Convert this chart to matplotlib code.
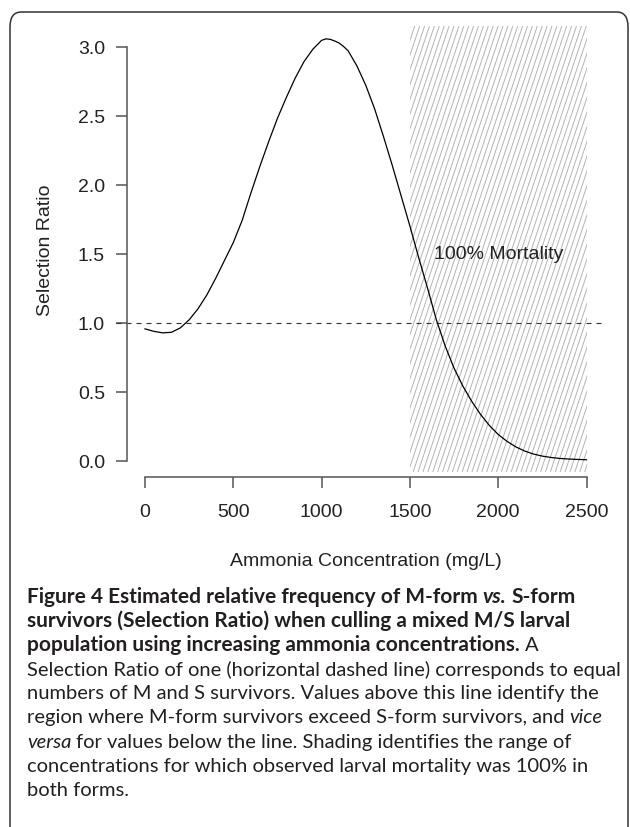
import numpy as np
import matplotlib.pyplot as plt
from matplotlib.collections import LineCollection
from matplotlib.patches import FancyBboxPatch

# ============== data
ammonia = [0, 50, 100, 150, 200, 250, 300, 350, 400, 450, 500, 550, 600, 650,
           700, 750, 800, 850, 900, 950, 1000, 1025, 1050, 1075, 1100, 1125,
           1150, 1200, 1250, 1300, 1350, 1400, 1450, 1500, 1550, 1600, 1650,
           1700, 1750, 1800, 1850, 1900, 1950, 2000, 2050, 2100, 2150, 2200,
           2250, 2300, 2350, 2400, 2450, 2500]
selection_ratio = [0.955, 0.937, 0.926, 0.93, 0.962, 1.02, 1.10, 1.20, 1.32,
                   1.45, 1.58, 1.74, 1.94, 2.13, 2.31, 2.48, 2.63, 2.77, 2.89,
                   2.98, 3.045, 3.056, 3.052, 3.04, 3.025, 3.0, 2.97, 2.86,
                   2.72, 2.55, 2.35, 2.14, 1.92, 1.70, 1.47, 1.25, 1.02, 0.83,
                   0.67, 0.54, 0.43, 0.335, 0.255, 0.19, 0.14, 0.10, 0.07,
                   0.048, 0.033, 0.023, 0.016, 0.012, 0.009, 0.007]
mortality_range = [1500, 2500]
reference_ratio = 1.0
xticks = [0, 500, 1000, 1500, 2000, 2500]
yticks = [0.0, 0.5, 1.0, 1.5, 2.0, 2.5, 3.0]

W, H = 630, 828
fig = plt.figure(figsize=(W / 100, H / 100), dpi=100)
plt.rcParams['font.family'] = ['Liberation Sans', 'DejaVu Sans']

# plot region in pixels (left, top, right, bottom)
L, T, R, B = 116, 27, 604, 473
ax = fig.add_axes([L / W, 1 - B / H, (R - L) / W, (B - T) / H])
ax.set_xlim(-164, 2599)
ax.set_ylim(-0.082, 3.149)

# ---- shaded "100% mortality" region with steep diagonal hatching
span = ax.axvspan(mortality_range[0], mortality_range[1], facecolor='none',
                  edgecolor='none', zorder=0)
px_per_x = (R - L) / (2599 + 164)
px_per_y = (B - T) / (3.149 + 0.082)
slope = 3.0 * px_per_x / px_per_y         # data slope of a line at ~72 deg
step = 4.9 / px_per_x                     # spacing between hatch lines
y0, y1 = ax.get_ylim()
run = (y1 - y0) / slope
starts = np.arange(mortality_range[0] - run, mortality_range[1] + step, step)
segs = [[(s, y0), (s + run, y1)] for s in starts]
hatch = LineCollection(segs, colors='#b4b4b4', linewidths=0.7, zorder=0.5)
ax.add_collection(hatch)
hatch.set_clip_path(span)

ax.axhline(reference_ratio, color='#333333', lw=0.8, dashes=(4.5, 4.5))
ax.plot(ammonia, selection_ratio, color='black', lw=0.9)

ax.text(2000, 1.5, '100% Mortality', ha='center', va='center', fontsize=14,
        color='#222222')

# ---- R style detached axes
for side in ['top', 'right']:
    ax.spines[side].set_visible(False)
ax.spines['left'].set_position(('data', -100))
ax.spines['left'].set_bounds(0, 3)
ax.spines['bottom'].set_position(('data', -0.118))
ax.spines['bottom'].set_bounds(0, 2500)
for side in ['left', 'bottom']:
    ax.spines[side].set_color('#555555')
    ax.spines[side].set_linewidth(1.1)
ax.set_xticks(xticks)
ax.set_yticks(yticks)
ax.set_yticklabels(['%.1f' % v for v in yticks])
ax.tick_params(axis='both', length=8, width=1.1, color='#555555',
               labelsize=14, labelcolor='#222222')
ax.tick_params(axis='y', pad=8)
ax.tick_params(axis='x', pad=11)

fig.text(366 / W, 1 - 562 / H, 'Ammonia Concentration (mg/L)', ha='center',
         va='center', fontsize=14, color='#222222')
fig.text(45 / W, 1 - 250 / H, 'Selection Ratio', ha='center', va='center',
         rotation=90, fontsize=14, color='#222222')

# ---- rounded frame
frame = FancyBboxPatch((10 / W, -0.02), 618 / W, 1 - 13 / H + 0.02,
                       boxstyle='round,pad=0,rounding_size=0.018',
                       transform=fig.transFigure, fill=False,
                       edgecolor='#333333', lw=1.1)
fig.patches.append(frame)

# ---- caption with mixed styles
cap_font = 'Lato'
renderer = fig.canvas.get_renderer()


def text_width(s, size, weight='normal', style='normal'):
    t = fig.text(0, 0, s, fontsize=size, family=cap_font, weight=weight,
                 style=style)
    w = t.get_window_extent(renderer).width
    t.remove()
    return w


# scale the caption so the lines fill the same widths as the original
ref_line = 'Selection Ratio of one (horizontal dashed line) corresponds to equal'
ref_bold = 'survivors (Selection Ratio) when culling a mixed M/S larval'
cap_size = 11 * 595 / text_width(ref_line, 11)
bold_size = 11 * 541 / text_width(ref_bold, 11, 'bold')

caption = [
    [('Figure 4 Estimated relative frequency of M-form', 'bold', 'normal'),
     ('vs.', 'bold', 'italic'), ('S-form', 'bold', 'normal')],
    [(ref_bold, 'bold', 'normal')],
    [('population using increasing ammonia concentrations.', 'bold', 'normal'),
     ('A', 'normal', 'normal')],
    [(ref_line, 'normal', 'normal')],
    [('numbers of M and S survivors. Values above this line identify the', 'normal', 'normal')],
    [('region where M-form survivors exceed S-form survivors, and', 'normal', 'normal'),
     ('vice', 'normal', 'italic')],
    [('versa', 'normal', 'italic'),
     ('for values below the line. Shading identifies the range of', 'normal', 'normal')],
    [('concentrations for which observed larval mortality was 100% in', 'normal', 'normal')],
    [('both forms.', 'normal', 'normal')],
]
space = text_width('a a', cap_size) - text_width('aa', cap_size)
y_first, line_gap = 597, 24.2
for i, segments in enumerate(caption):
    x = 27
    y = H - (y_first + i * line_gap)
    for j, (s, weight, style) in enumerate(segments):
        if j > 0:
            x += space
        size = bold_size if weight == 'bold' else cap_size
        t = fig.text(x, y, s, fontsize=size, family=cap_font,
                     weight=weight, style=style, color='#231f20',
                     va='center', ha='left', transform=None)
        x += t.get_window_extent(renderer).width

fig.savefig('out.png', dpi=100)
